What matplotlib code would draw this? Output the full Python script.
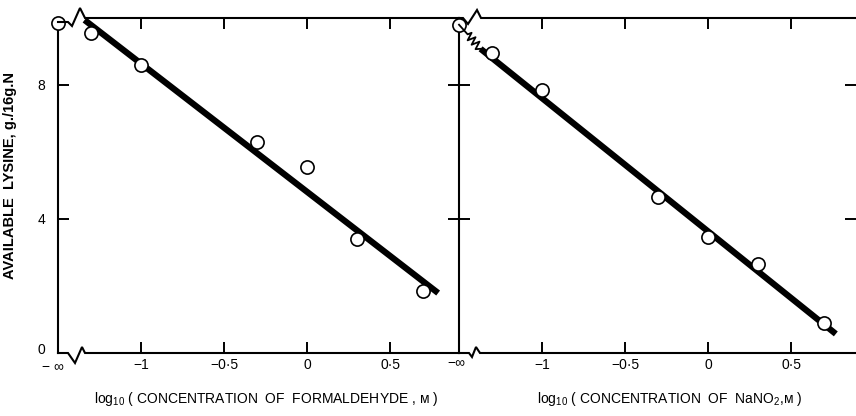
import matplotlib.pyplot as plt
from matplotlib.lines import Line2D
from matplotlib.transforms import IdentityTransform

plt.rcParams['font.family'] = ['Liberation Sans', 'DejaVu Sans']
plt.rcParams['mathtext.fontset'] = 'custom'
plt.rcParams['mathtext.rm'] = 'Liberation Sans'

# log10 concentration; NEG_INF is where "-infinity" (no reagent) sits on the axis
NEG_INF = -1.5
hcho_x = [NEG_INF, -1.3, -1.0, -0.3, 0.0, 0.3, 0.7]
hcho_lys = [9.85, 9.55, 8.6, 6.3, 5.55, 3.4, 1.85]
hcho_fit_x = [-1.34, 0.79]
hcho_fit_y = [9.94, 1.79]

nitrite_x = [NEG_INF, -1.3, -1.0, -0.3, 0.0, 0.3, 0.7]
nitrite_lys = [9.8, 8.95, 7.85, 4.65, 3.45, 2.65, 0.9]
nitrite_fit_x = [-1.37, 0.77]
nitrite_fit_y = [9.08, 0.57]

x_ticks = [-1, -0.5, 0, 0.5]
x_ticklabels = ['\u22121', '\u22120\u00b75', '0', '0\u00b75']
y_ticks = [4, 8]
y_ticklabels = ['4', '8']

W, H = 856, 416
PX = 166.0  # pixels per log unit
fig = plt.figure(figsize=(W / 100, H / 100), dpi=100)

ax1 = fig.add_axes([58 / W, 63 / H, 401 / W, 335 / H])
ax2 = fig.add_axes([459 / W, 63 / H, 397 / W, 335 / H])
ax1.set_xlim(NEG_INF, NEG_INF + 401 / PX)
ax2.set_xlim(NEG_INF, NEG_INF + 397 / PX)

for ax in (ax1, ax2):
    ax.set_ylim(0, 10)
    ax.set_xticks(x_ticks)
    ax.set_xticklabels(x_ticklabels, fontsize=10)
    ax.set_yticks(y_ticks)
    ax.tick_params(axis='both', direction='in', length=8, width=1.4,
                   top=True, bottom=True, left=True, right=True)
    ax.tick_params(axis='x', pad=3.5)
    for side in ('top', 'bottom', 'right'):
        ax.spines[side].set_visible(False)
    ax.spines['left'].set_linewidth(1.5)
    ax.patch.set_visible(False)

ax1.set_yticklabels(y_ticklabels, fontsize=10)
ax1.tick_params(axis='y', pad=9)
ax2.tick_params(axis='y', labelleft=False)

# fitted lines and points
ax1.plot(hcho_fit_x, hcho_fit_y, color='black', lw=4.5, solid_capstyle='butt', zorder=2)
ax1.plot(hcho_x, hcho_lys, 'o', ms=9.5, mfc='white', mec='black', mew=1.2,
         clip_on=False, zorder=3)
ax2.plot(nitrite_fit_x, nitrite_fit_y, color='black', lw=4.5, solid_capstyle='butt', zorder=2)
ax2.plot(nitrite_x, nitrite_lys, 'o', ms=9.5, mfc='white', mec='black', mew=1.2,
         clip_on=False, zorder=3)


def pixel_line(ax, corner, offsets, lw=1.5):
    # polyline given in pixel offsets from an axes corner
    x0, y0 = ax.transAxes.transform(corner)
    xs = [x0 + dx for dx, dy in offsets]
    ys = [y0 + dy for dx, dy in offsets]
    fig.add_artist(Line2D(xs, ys, transform=IdentityTransform(), color='black',
                          lw=lw, solid_joinstyle='miter', zorder=1))


# frame lines with the axis-break zigzags
pixel_line(ax1, (0, 1), [(0, -4), (10, -4), (14, -8), (22, 10), (27, 0), (401, 0)])
pixel_line(ax1, (0, 0), [(0, 0), (10, 0), (17, -10), (24, 6), (27, 0), (401, 0)])
pixel_line(ax2, (0, 1), [(0, 0), (4, 0), (9, -6), (18, 8), (22, 0), (397, 0)])
pixel_line(ax2, (0, 0), [(0, 0), (10, 0), (13, -4), (17, 6), (21, 0), (397, 0)])

# spring-like break between the -inf point and the nitrite line
(px0, py0) = ax2.transData.transform((nitrite_x[0], nitrite_lys[0]))
(px1, py1) = ax2.transData.transform((nitrite_fit_x[0], nitrite_fit_y[0]))
dx, dy = px1 - px0, py1 - py0
length = (dx ** 2 + dy ** 2) ** 0.5
nx, ny = -dy / length, dx / length
pts = [(0, 0), (0.4, 0)]
for k in range(6):
    pts.append((0.4 + 0.55 * (k + 0.5) / 6, 4.0 if k % 2 == 0 else -4.0))
pts.append((1, 0))
xs = [px0 + t * dx + a * nx for t, a in pts]
ys = [py0 + t * dy + a * ny for t, a in pts]
fig.add_artist(Line2D(xs, ys, transform=IdentityTransform(), color='black', lw=1.3, zorder=1))

# -infinity and zero labels
ax1.annotate('\u2212 \u221e', xy=(0, 0), xycoords='axes fraction', xytext=(-4, -10),
             textcoords='offset points', ha='center', va='center', fontsize=10)
ax1.annotate('0', xy=(0, 0), xycoords='axes fraction', xytext=(-12, 2),
             textcoords='offset points', ha='center', va='center', fontsize=10)
ax2.annotate('\u2212\u221e', xy=(0, 0), xycoords='axes fraction', xytext=(-2, -7),
             textcoords='offset points', ha='center', va='center', fontsize=10)

ax1.set_xlabel('log$_{10}$ ( CONCENTRATION  OF  FORMALDEHYDE , \u1d0d )', fontsize=10)
ax1.xaxis.set_label_coords(0.52, -0.11)
ax2.set_xlabel('log$_{10}$ ( CONCENTRATION  OF  NaNO$_2$,\u1d0d )', fontsize=10)
ax2.xaxis.set_label_coords(0.53, -0.11)
ax1.set_ylabel('AVAILABLE  LYSINE, g./16g.N', fontsize=10.5, fontweight='bold')
ax1.yaxis.set_label_coords(-0.102, 0.53)

fig.savefig('out.png', dpi=100)
